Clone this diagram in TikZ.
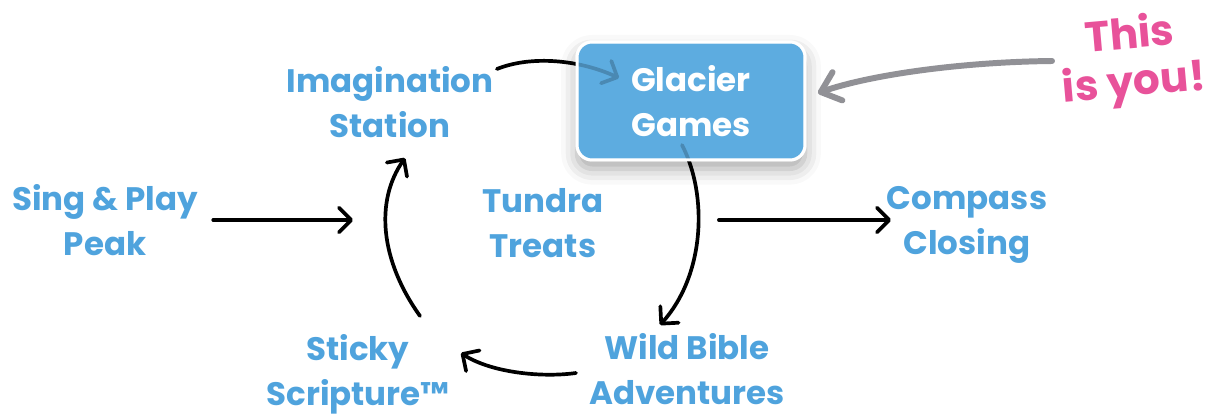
\documentclass[tikz,border=0pt]{standalone}
\usepackage{fontspec}
\setmainfont{Poppins}
\usepackage{tikz}
\usetikzlibrary{positioning, arrows.meta, calc, shadows.blur}
\definecolor{stageblue}{HTML}{4FA3DD}
\definecolor{boxblue}{HTML}{5DACE0}
\definecolor{youpink}{HTML}{E8529A}
\definecolor{pointgray}{HTML}{919196}
\tikzset{
x=0.02cm, y=-0.02cm, % one unit is one pixel of the reference, y runs down
stage/.style={text=stageblue, align=center, inner sep=0pt,
  font=\bfseries\fontsize{18.5}{25.6}\selectfont}, % the plain station labels
flow/.style={draw=black, line width=2.1pt, line cap=round,
  -{Straight Barb[length=7pt, width=14pt, round]}}, % black arrows
here/.style={fill=boxblue, draw=white, line width=1.7pt, rounded corners=0.3cm}, % current station
}

\begin{document}
\begin{tikzpicture}
\useasboundingbox (0,0) rectangle (1207,415);
% stations
\node[stage] (imag) at (390,102) {Imagination\\Station};
\node[here, minimum width=4.56cm, minimum height=2.36cm, outer sep=0pt,
  blur shadow={shadow xshift=0pt, shadow yshift=-5pt, shadow blur radius=9pt, shadow opacity=35}]
  (glacier) at (691,101) {};
\node[stage] (sing) at (105,220) {Sing \& Play\\Peak};
\node[stage] (tundra) at (543,223) {Tundra\\Treats};
\node[stage] (compass) at (967,225) {Compass\\Closing};
\node[stage] (wild) at (687,369) {Wild Bible\\Adventures};
\node[stage] (sticky) at (358,374) {Sticky\\Scripture™};
\node[text=youpink, align=center, inner sep=0pt, rotate=5,
  font=\bfseries\fontsize{24}{27}\selectfont] (you) at (1132,61) {This\\is you!};
\coordinate (loopin) at (353,220);
\coordinate (loopout) at (891,220);
% arrows
\draw[flow] ($(sing.east)+(15,0)$) -- (loopin);
\draw[flow] ($(tundra.east)+(115,-3)$) -- (loopout);
\draw[flow] ($(sticky)+(62,-58)$) .. controls +(-40,-56) and +(-30,43) .. ($(imag.south)+(15,20)$);
\draw[flow] ($(imag.east)+(3,-33)$) .. controls +(35,-14) and +(-39,-18) .. ($(glacier)+(-72,-23)$);
\draw[flow] ($(glacier)+(-9,44)$) .. controls +(26,50) and +(45,-50) .. ($(wild)+(-27,-44)$);
\draw[flow] ($(wild)+(-111,4)$) .. controls +(-36,5) and +(29,19) .. ($(sticky)+(103,-21)$);
% box again so the arrows show through it
\draw[here, fill opacity=0.8] (glacier.south west) rectangle (glacier.north east);
\node[text=white, align=center, font=\bfseries\fontsize{18.5}{25.6}\selectfont] at (glacier) {Glacier\\Games};
\draw[pointgray, line width=3.4pt, line cap=round,
  -{Straight Barb[length=10pt, width=17pt, round]}]
  ($(you)+(-80,0)$) .. controls +(-92,1) and +(52,-18) .. ($(glacier.east)+(13,-8)$);
\end{tikzpicture}
\end{document}
